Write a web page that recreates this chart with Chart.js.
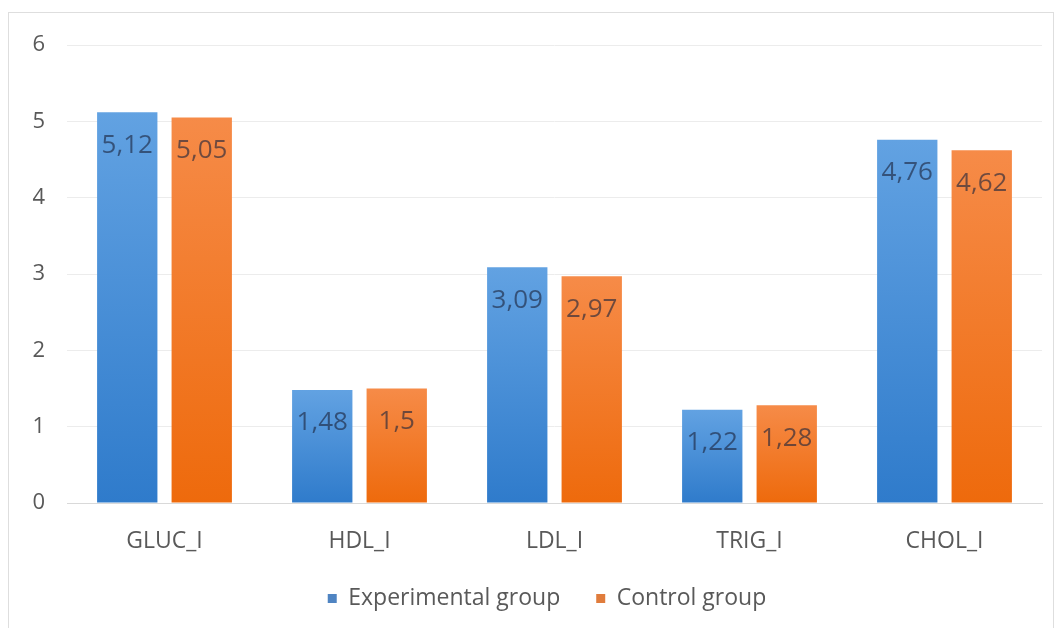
<!DOCTYPE html>
<html>
<head>
<meta charset="utf-8">
<script src="https://cdn.jsdelivr.net/npm/chart.js@4.4.1/dist/chart.umd.min.js"></script>
<style>
  html, body { margin: 0; padding: 0; background: #ffffff; }
  #wrap { position: relative; width: 1061px; height: 628px; }
  canvas { display: block; }
</style>
</head>
<body>
<div id="wrap"><canvas id="c" width="1061" height="628"></canvas></div>
<script>
// Lipid and glucose indicators, two study groups
const categories = ['GLUC_I', 'HDL_I', 'LDL_I', 'TRIG_I', 'CHOL_I'];
const experimentalValues = [5.12, 1.48, 3.09, 1.22, 4.76];
const controlValues = [5.05, 1.5, 2.97, 1.28, 4.62];
const yTicks = [0, 1, 2, 3, 4, 5, 6];

const FONT = '"Open Sans", Lato, sans-serif';

// Vertical gradient per bar: lighter at the top, deeper at the base
function barGradient(top, bottom, solid) {
  return function (ctx) {
    const chart = ctx.chart;
    if (!chart.chartArea || ctx.raw === undefined) return solid;
    const ys = chart.scales.y;
    const yTop = ys.getPixelForValue(ctx.raw);
    const yBase = ys.getPixelForValue(0);
    const g = chart.ctx.createLinearGradient(0, yTop, 0, yBase);
    g.addColorStop(0, top);
    g.addColorStop(1, bottom);
    return g;
  };
}

// Light frame around the whole chart
const framePlugin = {
  id: 'frame',
  beforeDraw(chart) {
    const c = chart.ctx;
    c.save();
    c.strokeStyle = '#dedede';
    c.lineWidth = 1;
    c.strokeRect(8.5, 12.5, 1045, 640);
    c.restore();
  }
};

// Centre the legend under the plot and lift it slightly
const legendShift = {
  id: 'legendShift',
  afterLayout(chart) {
    const lg = chart.legend;
    if (!lg) return;
    lg.left += 26; lg.right += 26;
    lg.top -= 8; lg.bottom -= 8;
  }
};

// Value labels just inside the top of each bar, comma decimal separator
const valueLabels = {
  id: 'valueLabels',
  afterDatasetsDraw(chart) {
    const c = chart.ctx;
    c.save();
    c.font = '26px ' + FONT;
    c.textAlign = 'center';
    c.textBaseline = 'middle';
    c.fillStyle = 'rgba(28,35,60,0.62)';
    chart.data.datasets.forEach((ds, di) => {
      const meta = chart.getDatasetMeta(di);
      meta.data.forEach((bar, i) => {
        const txt = String(ds.data[i]).replace('.', ',');
        c.fillText(txt, bar.x, bar.y + 33);
      });
    });
    c.restore();
  }
};

new Chart(document.getElementById('c'), {
  type: 'bar',
  data: {
    labels: categories,
    datasets: [
      {
        label: 'Experimental group',
        data: experimentalValues,
        backgroundColor: barGradient('#62a2e2', '#2f7bcb', '#4a85c6'),
        legendColor: '#4f84c2',
        categoryPercentage: 0.764,
        barPercentage: 0.81
      },
      {
        label: 'Control group',
        data: controlValues,
        backgroundColor: barGradient('#f68b48', '#ee6a0c', '#e57a35'),
        legendColor: '#e07c3c',
        categoryPercentage: 0.764,
        barPercentage: 0.81
      }
    ]
  },
  options: {
    responsive: false,
    animation: false,
    layout: { padding: { top: 45, right: 19, bottom: 0, left: 0 } },
    scales: {
      x: {
        grid: { display: false, drawTicks: false },
        border: { display: true, color: '#d9d9d9', width: 1 },
        ticks: { color: '#595959', font: { family: FONT, size: 23 }, padding: 25 },
        afterFit(scale) { scale.height = 56; }
      },
      y: {
        min: 0,
        max: 6,
        afterBuildTicks(scale) { scale.ticks = yTicks.map(v => ({ value: v })); },
        grid: { color: '#ececec', drawTicks: false },
        border: { display: false },
        ticks: { color: '#595959', font: { family: FONT, size: 22 }, padding: 22 },
        afterFit(scale) { scale.width = 67; }
      }
    },
    plugins: {
      legend: {
        position: 'bottom',
        labels: {
          color: '#595959',
          font: { family: FONT, size: 23 },
          boxWidth: 9,
          boxHeight: 9,
          padding: 36,
          generateLabels(chart) {
            return chart.data.datasets.map((ds, i) => ({
              text: ds.label,
              fillStyle: ds.legendColor,
              strokeStyle: ds.legendColor,
              lineWidth: 0,
              fontColor: '#595959',
              datasetIndex: i,
              hidden: false
            }));
          }
        }
      },
      tooltip: { enabled: false }
    }
  },
  plugins: [framePlugin, legendShift, valueLabels]
});
</script>
</body>
</html>
